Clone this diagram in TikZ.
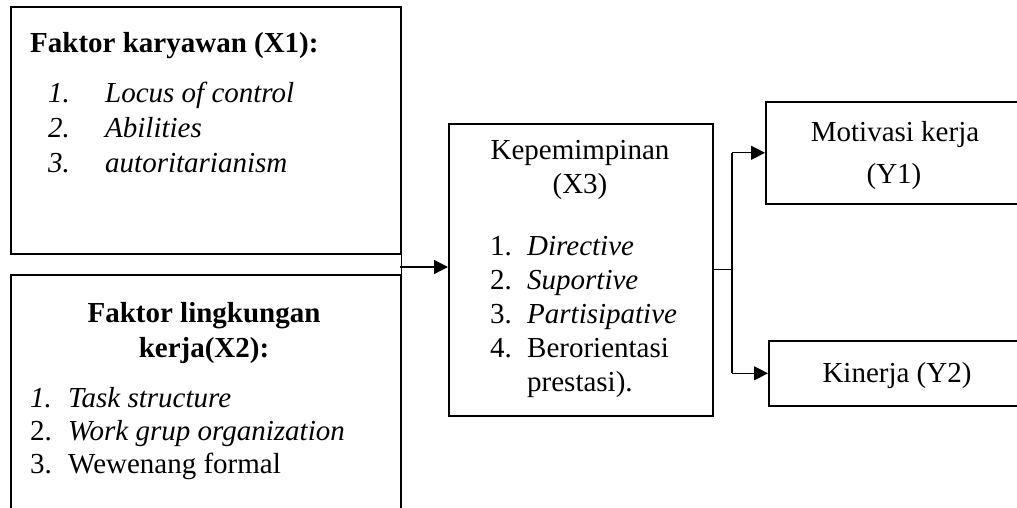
\documentclass[tikz,border=0pt]{standalone}
\usepackage{fontspec}
\setmainfont{Liberation Serif}
\usetikzlibrary{arrows.meta}
\begin{document}
\begin{tikzpicture}[x=1pt,y=-1pt,
  box/.style={draw, line width=1.6pt, inner sep=0pt, anchor=north west},
  txt/.style={inner sep=0pt, font=\fontsize{29}{34}\selectfont},
  lt/.style={txt, anchor=base west},
  ct/.style={txt, anchor=base},
  conn/.style={line width=1.3pt},
  arr/.style={conn, -{Triangle[length=14pt,width=14pt]}}]
\useasboundingbox (0,0) rectangle (1017,508);
\clip (0,0) rectangle (1017,508);
% boxes
\node[box, minimum width=390pt, minimum height=247pt] (X1) at (10,6) {};
\node[box, minimum width=390pt, minimum height=260pt] (X2) at (10,274) {};
\node[box, minimum width=264pt, minimum height=292pt] (X3) at (448,123) {};
\node[box, minimum width=270pt, minimum height=102pt] (Y1) at (765,101) {};
\node[box, minimum width=270pt, minimum height=65pt] (Y2) at (768,340) {};
% X1 text
\node[lt, font=\fontsize{29}{34}\selectfont\bfseries] (t1) at (30,53) {Faktor karyawan (X1):};
\node[lt] (n11) at (48,103) {\itshape 1.};
\node[lt] (i11) at (105,103) {\itshape Locus of control};
\node[lt] (n12) at (48,138) {\itshape 2.};
\node[lt] (i12) at (105,138) {\itshape Abilities};
\node[lt] (n13) at (48,172) {\itshape 3.};
\node[lt] (i13) at (105,172) {\itshape autoritarianism};
% X2 text
\node[ct, font=\fontsize{29}{34}\selectfont\bfseries] (t2a) at (204,322) {Faktor lingkungan};
\node[ct, font=\fontsize{29}{34}\selectfont\bfseries] (t2b) at (204,357) {kerja(X2):};
\node[lt] (n21) at (30,407) {\itshape 1.};
\node[lt] (i21) at (68,407) {\itshape Task structure};
\node[lt] (n22) at (30,440) {2.};
\node[lt] (i22) at (68,440) {\itshape Work grup organization};
\node[lt] (n23) at (30,473) {3.};
\node[lt] (i23) at (68,473) {Wewenang formal};
% X3 text
\node[ct] (t3a) at (580,160) {Kepemimpinan};
\node[ct] (t3b) at (580,193) {(X3)};
\node[lt] (n31) at (490,255) {1.};
\node[lt] (i31) at (527,255) {\itshape Directive};
\node[lt] (n32) at (490,289) {2.};
\node[lt] (i32) at (527,289) {\itshape Suportive};
\node[lt] (n33) at (490,323) {3.};
\node[lt] (i33) at (527,323) {\itshape Partisipative};
\node[lt] (n34) at (490,357) {4.};
\node[lt] (i34) at (527,357) {Berorientasi};
\node[lt] (i35) at (527,391) {prestasi).};
% Y texts
\node[ct] (t4a) at (895,142) {Motivasi kerja};
\node[ct] (t4b) at (894,183) {(Y1)};
\node[ct] (t5) at (897,382) {Kinerja (Y2)};
% connectors
\coordinate (J) at (400,267);
\draw[line width=1.6pt] (X1.south east) -- (X2.north east);
\draw[arr] (J) -- (J -| X3.west);
\coordinate (S) at (732,0);
\draw[conn] (X3.east) -- (S |- X3.east);
\draw[conn] (S |- Y1.west) -- (S |- Y2.west);
\draw[arr] (S |- Y1.west) -- (Y1.west);
\draw[arr] (S |- Y2.west) -- (Y2.west);
\end{tikzpicture}
\end{document}
